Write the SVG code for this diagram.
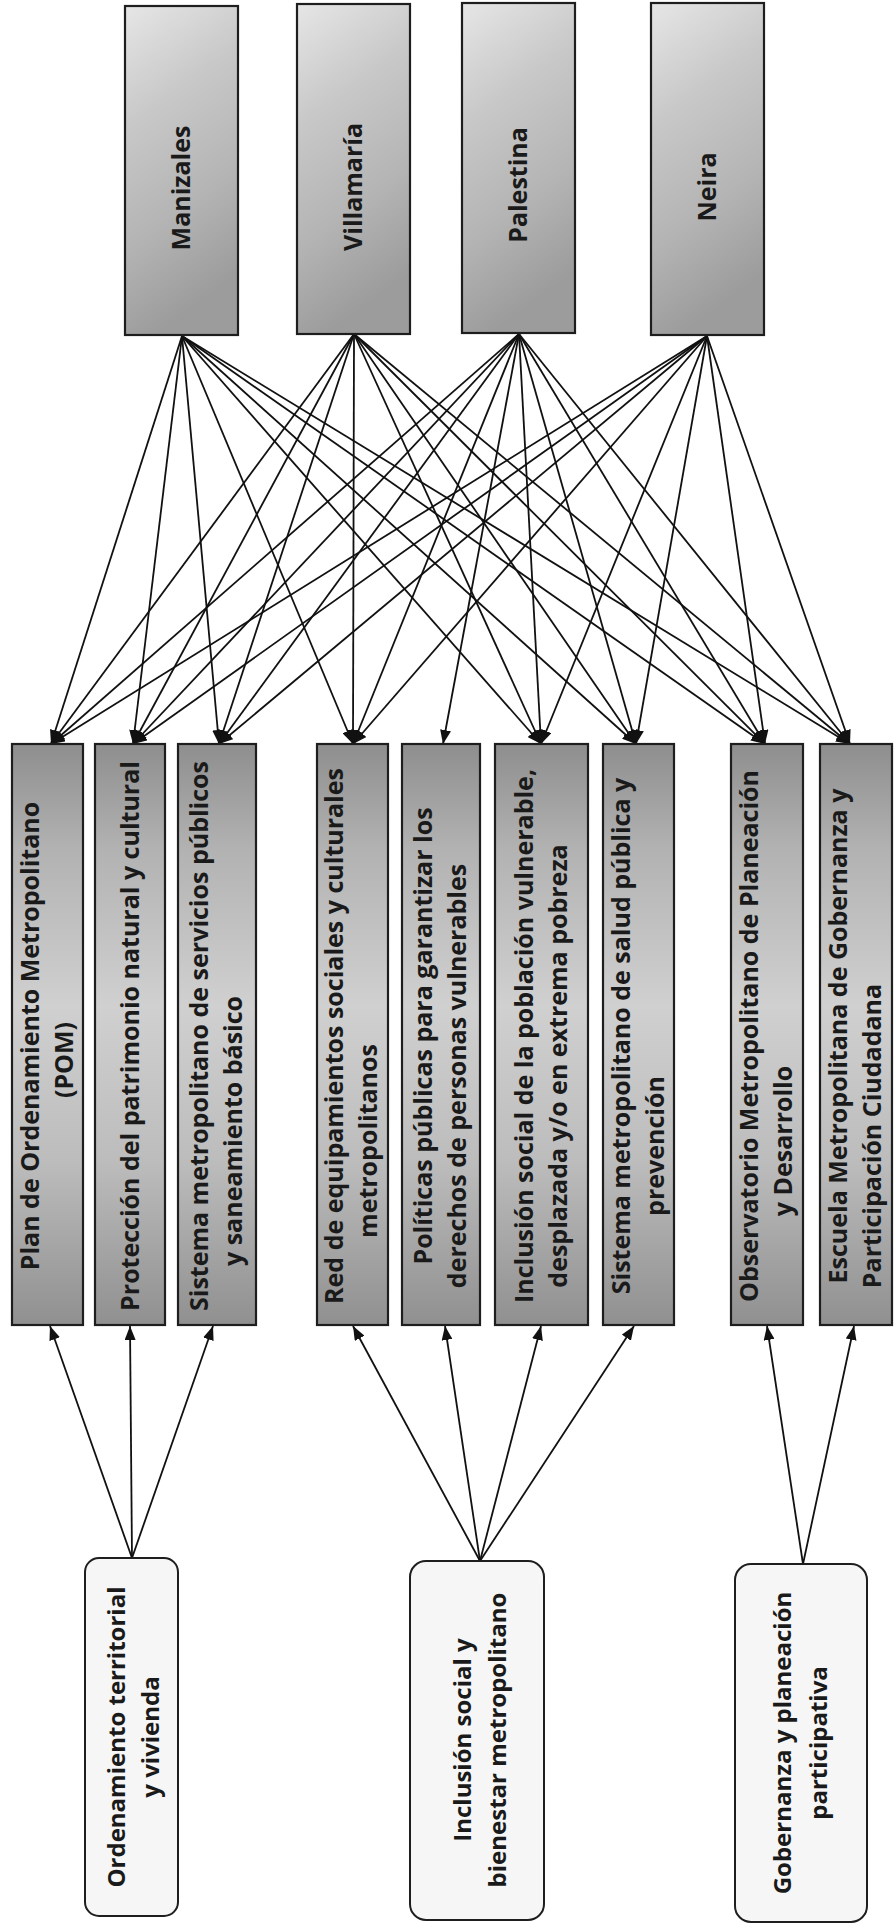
<svg xmlns="http://www.w3.org/2000/svg" width="894" height="1925" viewBox="0 0 894 1925">
<style>
.bg{fill:#ffffff}
.city{fill:url(#topGrad);stroke:#1e1e1e;stroke-width:2.2}
.prog{fill:url(#midGrad);stroke:#1e1e1e;stroke-width:2.2}
.axis{fill:#f6f6f6;stroke:#1e1e1e;stroke-width:2}
.t{font-family:"Open Sans","Noto Sans","DejaVu Sans",sans-serif;font-weight:700;font-size:25px;fill:#1a1a1a;text-anchor:middle}
.tb{font-size:24px}
.c{stroke:#111;stroke-width:1.8;fill:none;marker-end:url(#ah)}
</style>
<defs>
<linearGradient id="topGrad" x1="0" y1="0" x2="0.25" y2="1">
<stop offset="0" stop-color="#e6e6e6"/>
<stop offset="0.35" stop-color="#c8c8c8"/>
<stop offset="0.7" stop-color="#b4b4b4"/>
<stop offset="1" stop-color="#9c9c9c"/>
</linearGradient>
<linearGradient id="midGrad" x1="0" y1="0" x2="0" y2="1">
<stop offset="0" stop-color="#8e8e8e"/>
<stop offset="0.18" stop-color="#b2b2b2"/>
<stop offset="0.45" stop-color="#d0d0d0"/>
<stop offset="0.72" stop-color="#bcbcbc"/>
<stop offset="1" stop-color="#909090"/>
</linearGradient>
<marker id="ah" markerUnits="userSpaceOnUse" markerWidth="15" markerHeight="11" refX="14" refY="5.5" orient="auto">
<path d="M0,0 L14,5.5 L0,11 z" fill="#111"/>
</marker>
</defs>
<rect class="bg" x="0" y="0" width="894" height="1925"/>

<g id="connectors">
<line class="c" x1="182" y1="336" x2="51" y2="744"/>
<line class="c" x1="182" y1="336" x2="133" y2="744"/>
<line class="c" x1="182" y1="336" x2="219" y2="744"/>
<line class="c" x1="182" y1="336" x2="353" y2="744"/>
<line class="c" x1="182" y1="336" x2="541" y2="744"/>
<line class="c" x1="182" y1="336" x2="636" y2="744"/>
<line class="c" x1="182" y1="336" x2="765" y2="744"/>
<line class="c" x1="182" y1="336" x2="850" y2="744"/>
<line class="c" x1="354" y1="334" x2="51" y2="744"/>
<line class="c" x1="354" y1="334" x2="133" y2="744"/>
<line class="c" x1="354" y1="334" x2="219" y2="744"/>
<line class="c" x1="354" y1="334" x2="353" y2="744"/>
<line class="c" x1="354" y1="334" x2="541" y2="744"/>
<line class="c" x1="354" y1="334" x2="636" y2="744"/>
<line class="c" x1="354" y1="334" x2="765" y2="744"/>
<line class="c" x1="354" y1="334" x2="850" y2="744"/>
<line class="c" x1="519" y1="334" x2="51" y2="744"/>
<line class="c" x1="519" y1="334" x2="133" y2="744"/>
<line class="c" x1="519" y1="334" x2="219" y2="744"/>
<line class="c" x1="519" y1="334" x2="353" y2="744"/>
<line class="c" x1="519" y1="334" x2="443" y2="744"/>
<line class="c" x1="519" y1="334" x2="541" y2="744"/>
<line class="c" x1="519" y1="334" x2="636" y2="744"/>
<line class="c" x1="519" y1="334" x2="765" y2="744"/>
<line class="c" x1="519" y1="334" x2="850" y2="744"/>
<line class="c" x1="707" y1="336" x2="51" y2="744"/>
<line class="c" x1="707" y1="336" x2="133" y2="744"/>
<line class="c" x1="707" y1="336" x2="219" y2="744"/>
<line class="c" x1="707" y1="336" x2="353" y2="744"/>
<line class="c" x1="707" y1="336" x2="541" y2="744"/>
<line class="c" x1="707" y1="336" x2="636" y2="744"/>
<line class="c" x1="707" y1="336" x2="765" y2="744"/>
<line class="c" x1="707" y1="336" x2="850" y2="744"/>
<line class="c" x1="132" y1="1558" x2="50" y2="1326"/>
<line class="c" x1="132" y1="1558" x2="130" y2="1326"/>
<line class="c" x1="132" y1="1558" x2="213" y2="1326"/>
<line class="c" x1="480" y1="1561" x2="353" y2="1326"/>
<line class="c" x1="480" y1="1561" x2="445" y2="1326"/>
<line class="c" x1="480" y1="1561" x2="541" y2="1326"/>
<line class="c" x1="480" y1="1561" x2="634" y2="1326"/>
<line class="c" x1="803" y1="1564" x2="767" y2="1326"/>
<line class="c" x1="803" y1="1564" x2="854" y2="1326"/>
</g>

<g id="manizales"><rect class="city" x="125" y="6" width="113" height="329"/>
<text class="t" transform="translate(190,188) rotate(-90)">Manizales</text></g>
<g id="villamaria"><rect class="city" x="297" y="4" width="113" height="330"/>
<text class="t" transform="translate(362,187) rotate(-90)">Villamaría</text></g>
<g id="palestina"><rect class="city" x="462" y="3" width="113" height="330"/>
<text class="t" transform="translate(527,185) rotate(-90)">Palestina</text></g>
<g id="neira"><rect class="city" x="651" y="3" width="113" height="332"/>
<text class="t" transform="translate(716,187) rotate(-90)">Neira</text></g>

<g id="plan"><rect class="prog" x="12" y="744" width="71" height="581"/>
<text class="t" transform="translate(39,1036) rotate(-90)"><tspan x="0" y="0">Plan de Ordenamiento Metropolitano</tspan><tspan x="-24" y="34">(POM)</tspan></text></g>
<g id="proteccion"><rect class="prog" x="95" y="744" width="70" height="581"/>
<text class="t" transform="translate(139,1036) rotate(-90)">Protección del patrimonio natural y cultural</text></g>
<g id="servicios"><rect class="prog" x="178" y="744" width="78" height="581"/>
<text class="t" transform="translate(208,1036) rotate(-90)"><tspan x="0" y="0">Sistema metropolitano de servicios públicos</tspan><tspan x="-95" y="34">y saneamiento básico</tspan></text></g>
<g id="equipamientos"><rect class="prog" x="317" y="744" width="71" height="581"/>
<text class="t" transform="translate(343,1036) rotate(-90)"><tspan x="0" y="0">Red de equipamientos sociales y culturales</tspan><tspan x="-105" y="34">metropolitanos</tspan></text></g>
<g id="politicas"><rect class="prog" x="402" y="744" width="78" height="581"/>
<text class="t" transform="translate(432,1036) rotate(-90)"><tspan x="0" y="0">Políticas públicas para garantizar los</tspan><tspan x="-40" y="34">derechos de personas vulnerables</tspan></text></g>
<g id="inclusion"><rect class="prog" x="495" y="744" width="93" height="581"/>
<text class="t" transform="translate(533,1036) rotate(-90)"><tspan x="0" y="0">Inclusión social de la población vulnerable,</tspan><tspan x="-30" y="34">desplazada y/o en extrema pobreza</tspan></text></g>
<g id="salud"><rect class="prog" x="603" y="744" width="71" height="581"/>
<text class="t" transform="translate(630,1036) rotate(-90)"><tspan x="0" y="0">Sistema metropolitano de salud pública y</tspan><tspan x="-110" y="34">prevención</tspan></text></g>
<g id="observatorio"><rect class="prog" x="731" y="744" width="72" height="581"/>
<text class="t" transform="translate(758,1036) rotate(-90)"><tspan x="0" y="0">Observatorio Metropolitano de Planeación</tspan><tspan x="-105" y="34">y Desarrollo</tspan></text></g>
<g id="escuela"><rect class="prog" x="820" y="744" width="72" height="581"/>
<text class="t" transform="translate(847,1036) rotate(-90)"><tspan x="0" y="0">Escuela Metropolitana de Gobernanza y</tspan><tspan x="-100" y="34">Participación Ciudadana</tspan></text></g>

<g id="ordenamiento"><rect class="axis" x="85" y="1558" width="93" height="358" rx="14"/>
<text class="t tb" transform="translate(125,1737) rotate(-90)"><tspan x="0" y="0">Ordenamiento territorial</tspan><tspan x="0" y="34">y vivienda</tspan></text></g>
<g id="inclusion-social"><rect class="axis" x="410" y="1561" width="134" height="359" rx="16"/>
<text class="t tb" transform="translate(471,1740) rotate(-90)"><tspan x="0" y="0">Inclusión social y</tspan><tspan x="0" y="35">bienestar metropolitano</tspan></text></g>
<g id="gobernanza"><rect class="axis" x="735" y="1564" width="132" height="358" rx="16"/>
<text class="t tb" transform="translate(791,1743) rotate(-90)"><tspan x="0" y="0">Gobernanza y planeación</tspan><tspan x="0" y="36">participativa</tspan></text></g>
</svg>
